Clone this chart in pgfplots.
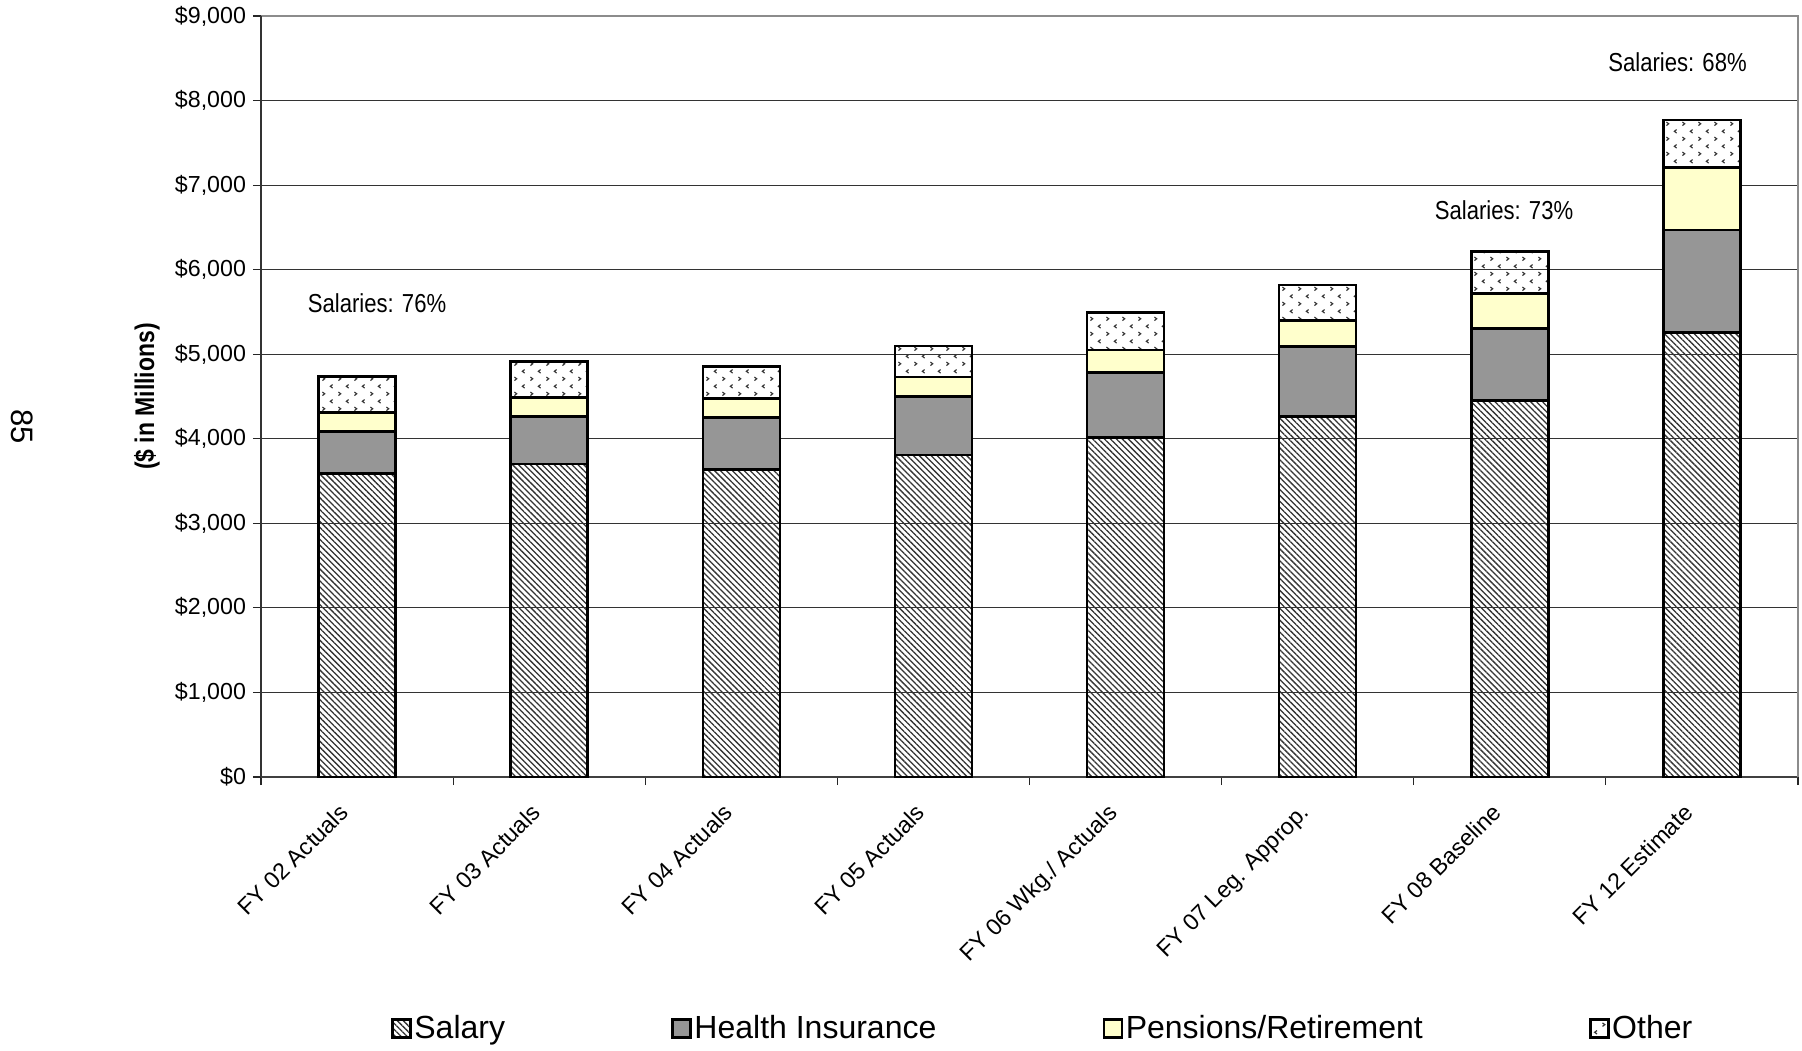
\documentclass[border=0pt]{standalone}
\usepackage{fontspec}
\setmainfont{Liberation Sans}
\newfontfamily\narrowfont[FakeStretch=0.85]{Liberation Sans}
\usepackage{pgfplots}
\usepackage{pgfplotstable}
\pgfplotsset{compat=1.18}
\usetikzlibrary{patterns.meta}

\definecolor{healthgray}{RGB}{150,150,150}
\definecolor{pensionyellow}{RGB}{255,255,204}
\definecolor{framegray}{RGB}{140,140,140}

% small "<" / ">" confetti used for the "Other" segment
\pgfdeclarepattern{
  name=chevrons,
  type=uncolored,
  bottom left={\pgfpoint{0bp}{0bp}},
  top right={\pgfpoint{8bp}{7.7bp}},
  tile size={\pgfpoint{8bp}{7.7bp}},
  code={
    \pgfsetlinewidth{0.6bp}
    \pgfpathmoveto{\pgfpoint{1.3bp}{6.7bp}}
    \pgfpathlineto{\pgfpoint{2.5bp}{5.8bp}}
    \pgfpathlineto{\pgfpoint{1.3bp}{4.9bp}}
    \pgfpathmoveto{\pgfpoint{6.7bp}{2.8bp}}
    \pgfpathlineto{\pgfpoint{5.5bp}{1.9bp}}
    \pgfpathlineto{\pgfpoint{6.7bp}{1.0bp}}
    \pgfusepath{stroke}
  }
}

% personnel cost components, $ millions
\pgfplotstableread{
x  S     H     P    O
0  3591  493   229  421
1  3702  559   225  425
2  3639  615   224  374
3  3807  693   231  367
4  4013  768   269  441
5  4261  828   307  422
6  4450  856   414  492
7  5260  1210  735  565
}\costdata

\begin{document}
\begin{tikzpicture}
\path[use as bounding box] (-130.5bp,-137bp) rectangle (770.5bp,388.5bp);
\begin{axis}[
  at={(0,0)}, anchor=south west,
  scale only axis, width=768.5bp, height=380.5bp,
  clip=false,
  xmin=-0.5, xmax=7.5, ymin=0, ymax=9000,
  ybar stacked, bar width=38.5bp,
  axis line style={draw=none},
  tick pos=left, tick align=outside,
  major tick length=4bp, minor tick length=4bp,
  tick style={line width=0.6bp, black!85},
  major x tick style={draw=none},
  ytick={0,1000,...,9000},
  yticklabels={{\$0},{\$1,000},{\$2,000},{\$3,000},{\$4,000},{\$5,000},{\$6,000},{\$7,000},{\$8,000},{\$9,000}},
  yticklabel style={font=\fontsize{11.6bp}{13bp}\selectfont},
  xtick={0,...,7},
  minor xtick={-0.5,0.5,...,7.5},
  xticklabels={FY 02 Actuals,FY 03 Actuals,FY 04 Actuals,FY 05 Actuals,FY 06 Wkg./ Actuals,FY 07 Leg. Approp.,FY 08 Baseline,FY 12 Estimate},
  xticklabel style={font=\fontsize{11.6bp}{13bp}\selectfont, xshift=-3.5bp, yshift=-14.5bp, rotate=45, anchor=base east, inner sep=0pt},
  ymajorgrids, grid style={line width=0.5bp, black!80},
  ylabel={(\$ in Millions)},
  ylabel style={font=\narrowfont\bfseries\fontsize{13.5bp}{15bp}\selectfont, at={(axis description cs:-0.0742,0.5)}, anchor=center},
  legend columns=4,
  legend style={at={(axis description cs:0.5088,0)}, anchor=center, yshift=-125.75bp,
    draw=none, fill=none, font=\fontsize{16bp}{18bp}\selectfont,
    nodes={inner sep=1.2bp},
    /tikz/every even column/.append style={column sep=82bp}},
  legend image code/.code={\draw[#1] (0bp,-4.5bp) rectangle (9bp,4.5bp);},
  every axis plot/.append style={draw=black, line width=1.3bp},
]
\addplot[fill=white, pattern={Lines[angle=-45, distance=2.1bp, line width=0.65bp]}, pattern color=black!80] table[x=x, y=S] {\costdata};
\addplot[fill=healthgray] table[x=x, y=H] {\costdata};
\addplot[fill=pensionyellow] table[x=x, y=P] {\costdata};
\addplot[fill=white, pattern=chevrons, pattern color=black!80] table[x=x, y=O] {\costdata};
\legend{Salary, Health Insurance, Pensions/Retirement, Other}

% frame
\draw[line width=1bp, black!80] (rel axis cs:0,0) -- (rel axis cs:0,1);
\draw[line width=1bp, framegray] (rel axis cs:0,1) -- (rel axis cs:1,1) -- (rel axis cs:1,0);
\draw[line width=1bp, black!75] (rel axis cs:0,0) -- (rel axis cs:1,0);

% salary shares
\node[font=\narrowfont\fontsize{13bp}{15bp}\selectfont] at (axis cs:0.104,5606) {Salaries: 76\%};
\node[font=\narrowfont\fontsize{13bp}{15bp}\selectfont] at (axis cs:5.97,6705) {Salaries: 73\%};
\node[font=\narrowfont\fontsize{13bp}{15bp}\selectfont] at (axis cs:6.873,8456) {Salaries: 68\%};

% page number
\node[rotate=-90, font=\fontsize{15.5bp}{17bp}\selectfont] at (axis description cs:-0.1555,0.46) {85};
\end{axis}
\end{tikzpicture}
\end{document}
